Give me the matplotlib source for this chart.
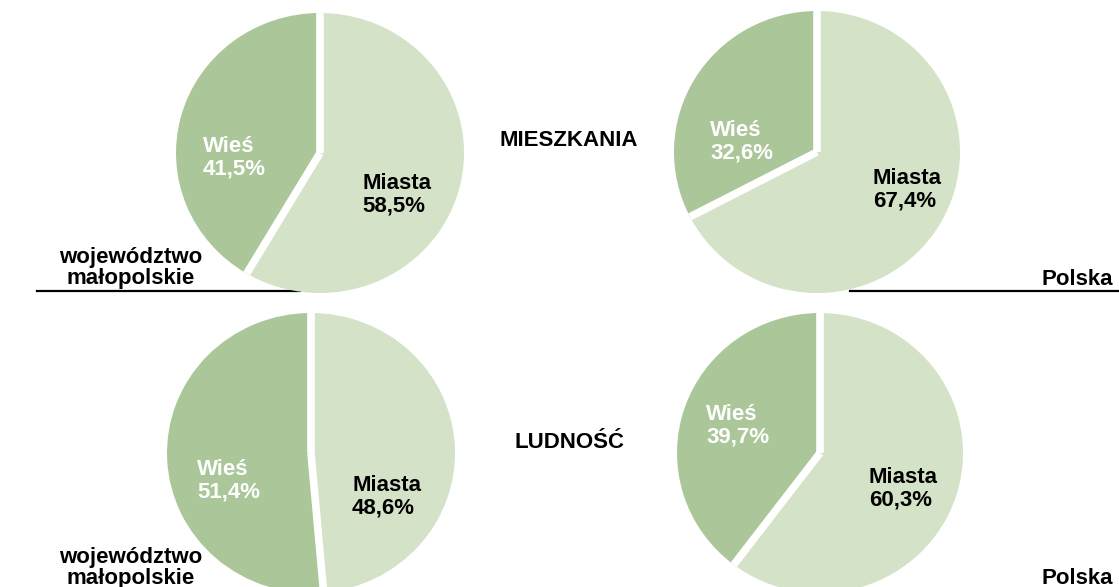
import numpy as np
import matplotlib.pyplot as plt
from matplotlib.patches import Ellipse

plt.rcParams['font.family'] = ['Liberation Sans', 'DejaVu Sans']

W, H = 1119, 587

# dane
regions = ['województwo\nmałopolskie', 'Polska']
categories = ['Miasta', 'Wieś']
mieszkania_miasta = [58.5, 67.4]
mieszkania_wies = [41.5, 32.6]
ludnosc_miasta = [48.6, 60.3]
ludnosc_wies = [51.4, 39.7]
titles = ['MIESZKANIA', 'LUDNOŚĆ']

colors = ['#d4e2c7', '#abc799']
text_colors = ['black', 'white']

# polozenie kol w pikselach: (cx, cy, rx, ry)
pies = [
    (320, 153, 144, 140),
    (817, 152, 143, 141),
    (311, 453, 144, 140),
    (820, 453, 143, 140),
]
# polozenie etykiet (lewy brzeg, srodek w pionie): [miasta, wies]
label_pos = [
    [(362, 195), (203, 158)],
    [(873, 190), (710, 142)],
    [(352, 497), (197, 481)],
    [(869, 489), (706, 426)],
]
fs = 16

fig = plt.figure(figsize=(W / 100, H / 100), dpi=100)

# tlo z liniami
bg = fig.add_axes([0, 0, 1, 1])
bg.set_xlim(0, W)
bg.set_ylim(H, 0)
bg.axis('off')
bg.plot([37, 300], [291, 291], color='black', linewidth=1.6)
bg.plot([850, W], [291, 291], color='black', linewidth=1.6)

lw = 5.5


def fx(x):
    return x / W


def fy(y):
    return 1 - y / H


def fmt(v):
    return f'{v:.1f}%'.replace('.', ',')


data = [
    (mieszkania_miasta[0], mieszkania_wies[0]),
    (mieszkania_miasta[1], mieszkania_wies[1]),
    (ludnosc_miasta[0], ludnosc_wies[0]),
    (ludnosc_miasta[1], ludnosc_wies[1]),
]

for i in range(len(pies)):
    cx, cy, rx, ry = pies[i]
    ax = fig.add_axes([fx(cx - rx), fy(cy + ry), 2 * rx / W, 2 * ry / H])
    ax.pie(data[i], colors=colors, startangle=90, counterclock=False,
           wedgeprops=dict(linewidth=0))
    ax.set_xlim(-1, 1)
    ax.set_ylim(-1, 1)
    ax.set_aspect('auto')
    # biale przerwy pomiedzy wycinkami
    clip = Ellipse((0, 0), 2, 2, transform=ax.transData)
    for a in [90, 90 - 360 * data[i][0] / 100]:
        t = np.deg2rad(a)
        ln, = ax.plot([0, 1.1 * np.cos(t)], [0, 1.1 * np.sin(t)],
                      color='white', linewidth=lw, solid_capstyle='butt')
        ln.set_clip_path(clip)
    for j in range(2):
        x, y = label_pos[i][j]
        fig.text(fx(x), fy(y), f'{categories[j]}\n{fmt(data[i][j])}',
                 ha='left', va='center', fontsize=fs, fontweight='bold',
                 color=text_colors[j], linespacing=1.1)

fig.text(fx(569), fy(140), titles[0], ha='center', va='center',
         fontsize=fs, fontweight='bold')
fig.text(fx(569), fy(442), titles[1], ha='center', va='center',
         fontsize=fs, fontweight='bold')

for y in [268, 568]:
    fig.text(fx(131), fy(y), regions[0], ha='center', va='center',
             fontsize=fs, fontweight='bold', linespacing=1.05)
for y in [280, 579]:
    fig.text(fx(1113), fy(y), regions[1], ha='right', va='center',
             fontsize=fs, fontweight='bold')

fig.savefig('out.png', dpi=100)
